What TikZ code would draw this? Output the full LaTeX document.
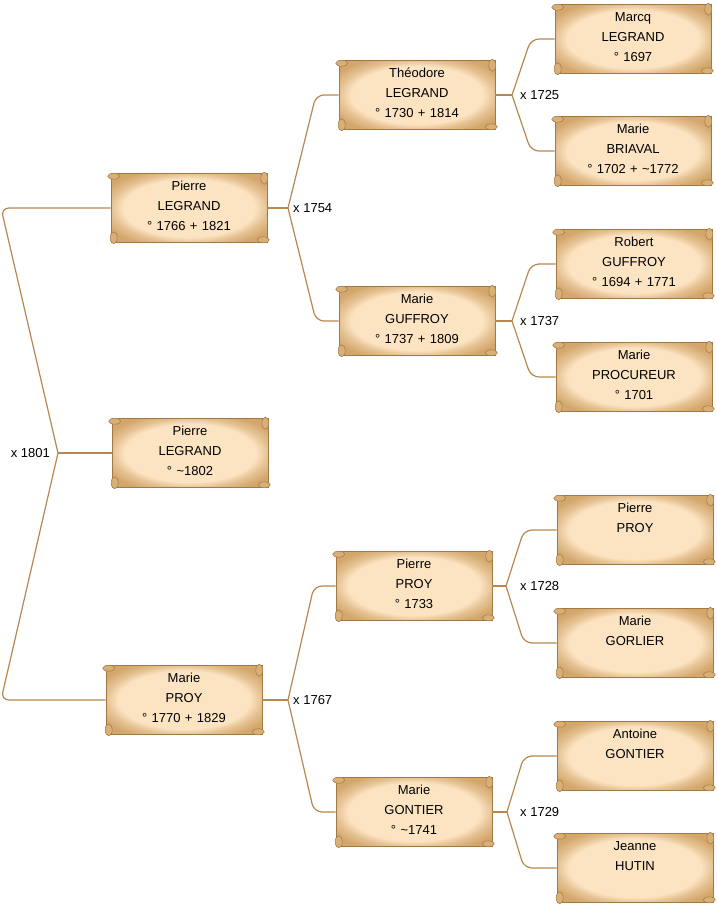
\documentclass[tikz,border=0pt]{standalone}
\usepackage{fontspec}
\setmainfont{Liberation Sans}
\usepackage{xcolor}
\usepackage{tikz}
\usetikzlibrary{calc}

\definecolor{scrollin}{HTML}{FCE4C3}
\definecolor{scrollout}{HTML}{D3A66B}
\definecolor{scrolledge}{HTML}{A27843}
\definecolor{linkbrown}{HTML}{B8874F}
\pgfdeclareradialshading{parchment}{\pgfpoint{0bp}{0bp}}{color(0bp)=(scrollin); color(21bp)=(scrollin); color(25bp)=(scrollout!55!scrollin); color(30bp)=(scrollout); color(50bp)=(scrollout)}

\begin{document}
\begin{tikzpicture}[x=1pt, y=-1pt,
    scroll/.style={draw=scrolledge, line width=0.6pt, shade, shading=parchment, text width=152pt, align=center, inner sep=2pt, text height=15pt, text depth=50pt, font=\fontsize{13}{20}\selectfont},
    curl/.style={draw=scrolledge, line width=0.5pt, fill=scrollout!85!scrollin},
    link/.style={draw=linkbrown, line width=1.2pt, rounded corners=8pt},
    wed/.style={font=\fontsize{13}{16}\selectfont, inner sep=1pt}
  ]
    \useasboundingbox (0,0) rectangle (716,908);

    % generation 1
    \node[scroll] (dad) at (189,208) {Pierre\\LEGRAND\\° 1766 + 1821};
    \node[scroll] (kid) at (190,453) {Pierre\\LEGRAND\\° \textasciitilde1802};
    \node[scroll] (mom) at (184,700) {Marie\\PROY\\° 1770 + 1829};

    % generation 2
    \node[scroll] (dadf) at (417,95) {Théodore\\LEGRAND\\° 1730 + 1814};
    \node[scroll] (dadm) at (417,321) {Marie\\GUFFROY\\° 1737 + 1809};
    \node[scroll] (momf) at (414,586) {Pierre\\PROY\\° 1733};
    \node[scroll] (momm) at (414,812) {Marie\\GONTIER\\° \textasciitilde1741};

    % generation 3
    \node[scroll] (dadff) at (633,39) {Marcq\\LEGRAND\\° 1697};
    \node[scroll] (dadfm) at (633,151) {Marie\\BRIAVAL\\° 1702 + \textasciitilde1772};
    \node[scroll] (dadmf) at (634,264) {Robert\\GUFFROY\\° 1694 + 1771};
    \node[scroll] (dadmm) at (634,377) {Marie\\PROCUREUR\\° 1701};
    \node[scroll] (momff) at (635,530) {Pierre\\PROY};
    \node[scroll] (momfm) at (635,643) {Marie\\GORLIER};
    \node[scroll] (mommf) at (635,756) {Antoine\\GONTIER};
    \node[scroll] (mommm) at (635,868) {Jeanne\\HUTIN};

    % rolled ends
    \foreach \n in {dad,kid,mom,dadf,dadm,momf,momm,dadff,dadfm,dadmf,dadmm,momff,momfm,mommf,mommm} {
      \draw[curl] ([xshift=3pt,yshift=-3pt]\n.north west) ellipse (6pt and 3pt);
      \draw[curl] ([xshift=-3pt,yshift=-5pt]\n.north east) ellipse (3.5pt and 6pt);
      \draw[curl] ([xshift=3pt,yshift=5pt]\n.south west) ellipse (3.5pt and 6pt);
      \draw[curl] ([xshift=-4pt,yshift=3pt]\n.south east) ellipse (6pt and 3pt);
    }

    % marriage points
    \coordinate (w0) at (58,453);
    \coordinate (w1) at (288,208);
    \coordinate (w2) at (288,700);
    \coordinate (w3) at (512,95);
    \coordinate (w4) at (512,321);
    \coordinate (w5) at (506,586);
    \coordinate (w6) at (507,812);

    \draw[link] (kid) -- (w0);
    \draw[link] (w0) -- (1,0 |- dad) -- (dad);
    \draw[link] (w0) -- (1,0 |- mom) -- (mom);
    \node[wed, anchor=east] (x1801) at ([xshift=-7pt]w0) {x 1801};

    \draw[link] (dad) -- (w1);
    \draw[link] (w1) -- (316,0 |- dadf) -- (dadf);
    \draw[link] (w1) -- (316,0 |- dadm) -- (dadm);
    \node[wed, anchor=west] (x1754) at ([xshift=4pt]w1) {x 1754};

    \draw[link] (mom) -- (w2);
    \draw[link] (w2) -- (314,0 |- momf) -- (momf);
    \draw[link] (w2) -- (314,0 |- momm) -- (momm);
    \node[wed, anchor=west] (x1767) at ([xshift=4pt]w2) {x 1767};

    \draw[link] (dadf) -- (w3);
    \draw[link] (w3) -- (531,0 |- dadff) -- (dadff);
    \draw[link] (w3) -- (531,0 |- dadfm) -- (dadfm);
    \node[wed, anchor=west] (x1725) at (519,0 |- w3) {x 1725};

    \draw[link] (dadm) -- (w4);
    \draw[link] (w4) -- (531,0 |- dadmf) -- (dadmf);
    \draw[link] (w4) -- (531,0 |- dadmm) -- (dadmm);
    \node[wed, anchor=west] (x1737) at (519,0 |- w4) {x 1737};

    \draw[link] (momf) -- (w5);
    \draw[link] (w5) -- (524,0 |- momff) -- (momff);
    \draw[link] (w5) -- (524,0 |- momfm) -- (momfm);
    \node[wed, anchor=west] (x1728) at (519,0 |- w5) {x 1728};

    \draw[link] (momm) -- (w6);
    \draw[link] (w6) -- (524,0 |- mommf) -- (mommf);
    \draw[link] (w6) -- (524,0 |- mommm) -- (mommm);
    \node[wed, anchor=west] (x1729) at (519,0 |- w6) {x 1729};
  \end{tikzpicture}
\end{document}
